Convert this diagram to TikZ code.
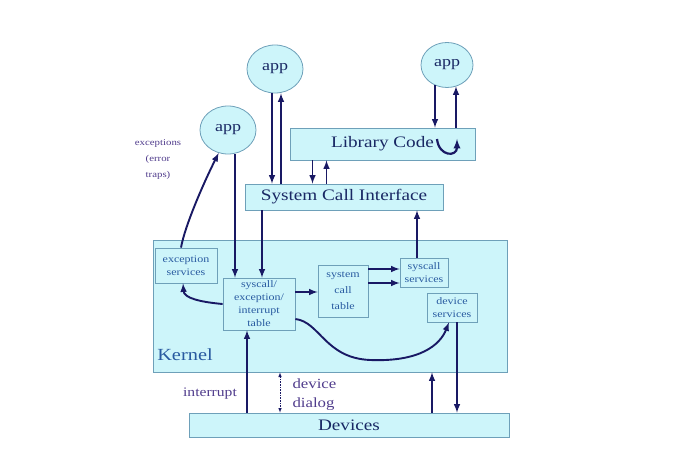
\documentclass[tikz,border=0pt]{standalone}
\usepackage{fontspec}
\setmainfont[FakeStretch=1.2]{Liberation Serif}
\usetikzlibrary{shapes.geometric}
\definecolor{boxfill}{RGB}{205,245,250}
\definecolor{boxline}{RGB}{110,160,185}
\definecolor{arrcol}{RGB}{25,25,100}
\definecolor{txtcol}{RGB}{25,40,100}
\definecolor{kerncol}{RGB}{40,90,160}
\definecolor{labcol}{RGB}{80,60,140}
\begin{document}
\begin{tikzpicture}[x=1pt, y=-1pt,
    box/.style={draw=boxline, fill=boxfill, line width=0.8pt, inner sep=0pt, text=txtcol},
    bigbox/.style={box, font=\fontsize{16}{18}\selectfont},
    appnode/.style={box, ellipse, minimum width=56pt, minimum height=48pt, font=\fontsize{15}{18}\selectfont},
    smallbox/.style={box, align=center, text=kerncol, font=\fontsize{10}{13}\selectfont},
    arr/.style={draw=arrcol, line width=1.9pt, -latex},
    lab/.style={text=labcol, align=center}]
    \useasboundingbox (0,0) rectangle (679,473);

    % kernel and its parts
    \node[box, minimum width=354pt, minimum height=132pt] (kernel) at (330,306) {};
    \node[text=kerncol, font=\fontsize{17}{20}\selectfont] (kernlab) at (185,355) {Kernel};
    \node[smallbox, minimum width=62pt, minimum height=35pt] (exc) at (186,265.5) {exception\\services};
    \node[smallbox, minimum width=72pt, minimum height=52pt] (ivt) at (259,304) {syscall/\\exception/\\interrupt\\table};
    \node[smallbox, minimum width=50pt, minimum height=52pt, font=\fontsize{10}{16}\selectfont] (sct) at (343,291) {system\\call\\table};
    \node[smallbox, minimum width=48pt, minimum height=29pt] (scs) at (424,272.5) {syscall\\services};
    \node[smallbox, minimum width=50pt, minimum height=29pt] (devs) at (452,307.5) {device\\services};

    % user level
    \node[appnode] (app1) at (275,69) {app};
    \node[appnode, minimum width=52pt, minimum height=45pt] (app2) at (447,65) {app};
    \node[appnode] (app3) at (228,130) {app};
    \node[bigbox, minimum width=185pt, minimum height=32pt] (lib) at (382.5,144) {Library Code};
    \node[bigbox, minimum width=198pt, minimum height=26pt] (sci) at (344,197) {System Call Interface};
    \node[bigbox, minimum width=320pt, minimum height=24pt] (devices) at (349,425) {Devices};

    % labels
    \node[lab, font=\fontsize{9}{16}\selectfont] (exclab) at (158,159) {exceptions\\(error\\traps)};
    \node[lab, font=\fontsize{13}{15}\selectfont] (intlab) at (210,394) {interrupt};
    \node[lab, align=left, anchor=west, font=\fontsize{14}{19}\selectfont] (dialab) at (289,395) {device\\dialog};

    % apps and library
    \draw[arr] ([xshift=-3pt]app1.south) -- ([xshift=-3pt]app1.south |- sci.north);
    \draw[arr] ([xshift=6pt]app1.south |- sci.north) -- ([xshift=6pt]app1.south);
    \draw[arr] ([xshift=-12pt, yshift=2.5pt]app2.south) -- ([xshift=-12pt]app2.south |- lib.north);
    \draw[arr] ([xshift=9pt]app2.south |- lib.north) -- ([xshift=9pt, yshift=1.5pt]app2.south);
    \coordinate (turnA) at (437,139);
    \coordinate (turnB) at (457,139);
    \draw[arr, line width=2.2pt] (turnA) .. controls (439,157) and (457,157) .. (turnB);
    \draw[arr] ([xshift=-70pt]lib.south) -- ([xshift=-70pt]lib.south |- sci.north);
    \draw[arr] ([xshift=-56pt]lib.south |- sci.north) -- ([xshift=-56pt]lib.south);

    % into the kernel
    \draw[arr] ([xshift=-82pt]sci.south) -- ([xshift=-82pt]sci.south |- ivt.north);
    \draw[arr] ([xshift=7pt]app3.south) -- ([xshift=7pt]app3.south |- ivt.north);
    \draw[arr] ([xshift=-5pt]exc.north) .. controls (185,225) and (205,180) .. (app3.-112);
    \draw[arr] (ivt.west) .. controls (200,302) and (184,298) .. ([xshift=-3pt]exc.south);
    \draw[arr] ([yshift=12pt]ivt.east) -- ([yshift=12pt]ivt.east -| sct.west);
    \draw[arr] ([yshift=22pt]sct.east) -- ([yshift=22pt]sct.east -| scs.west);
    \draw[arr] ([yshift=8pt]sct.east) -- ([yshift=8pt]sct.east -| scs.west);
    \draw[arr] ([xshift=-7pt]scs.north) -- ([xshift=-7pt]scs.north |- sci.south);
    \draw[arr] ([yshift=-15pt]ivt.east) .. controls (320,322) and (325,358) .. (370,360)
        .. controls (420,362) and (440,345) .. ([xshift=-3pt]devs.south);

    % devices
    \draw[arr] ([xshift=5pt]devs.south) -- ([xshift=5pt]devs.south |- devices.north);
    \draw[arr] ([xshift=83pt]devices.north) -- ([xshift=83pt]devices.north |- kernel.south);
    \draw[arr] ([xshift=-102pt]devices.north) -- ([xshift=-102pt]devices.north |- ivt.south);
    \draw[arrcol, densely dotted, line width=0.6pt, latex-latex] ([xshift=-69pt]devices.north) -- ([xshift=-69pt]devices.north |- kernel.south);
\end{tikzpicture}
\end{document}
